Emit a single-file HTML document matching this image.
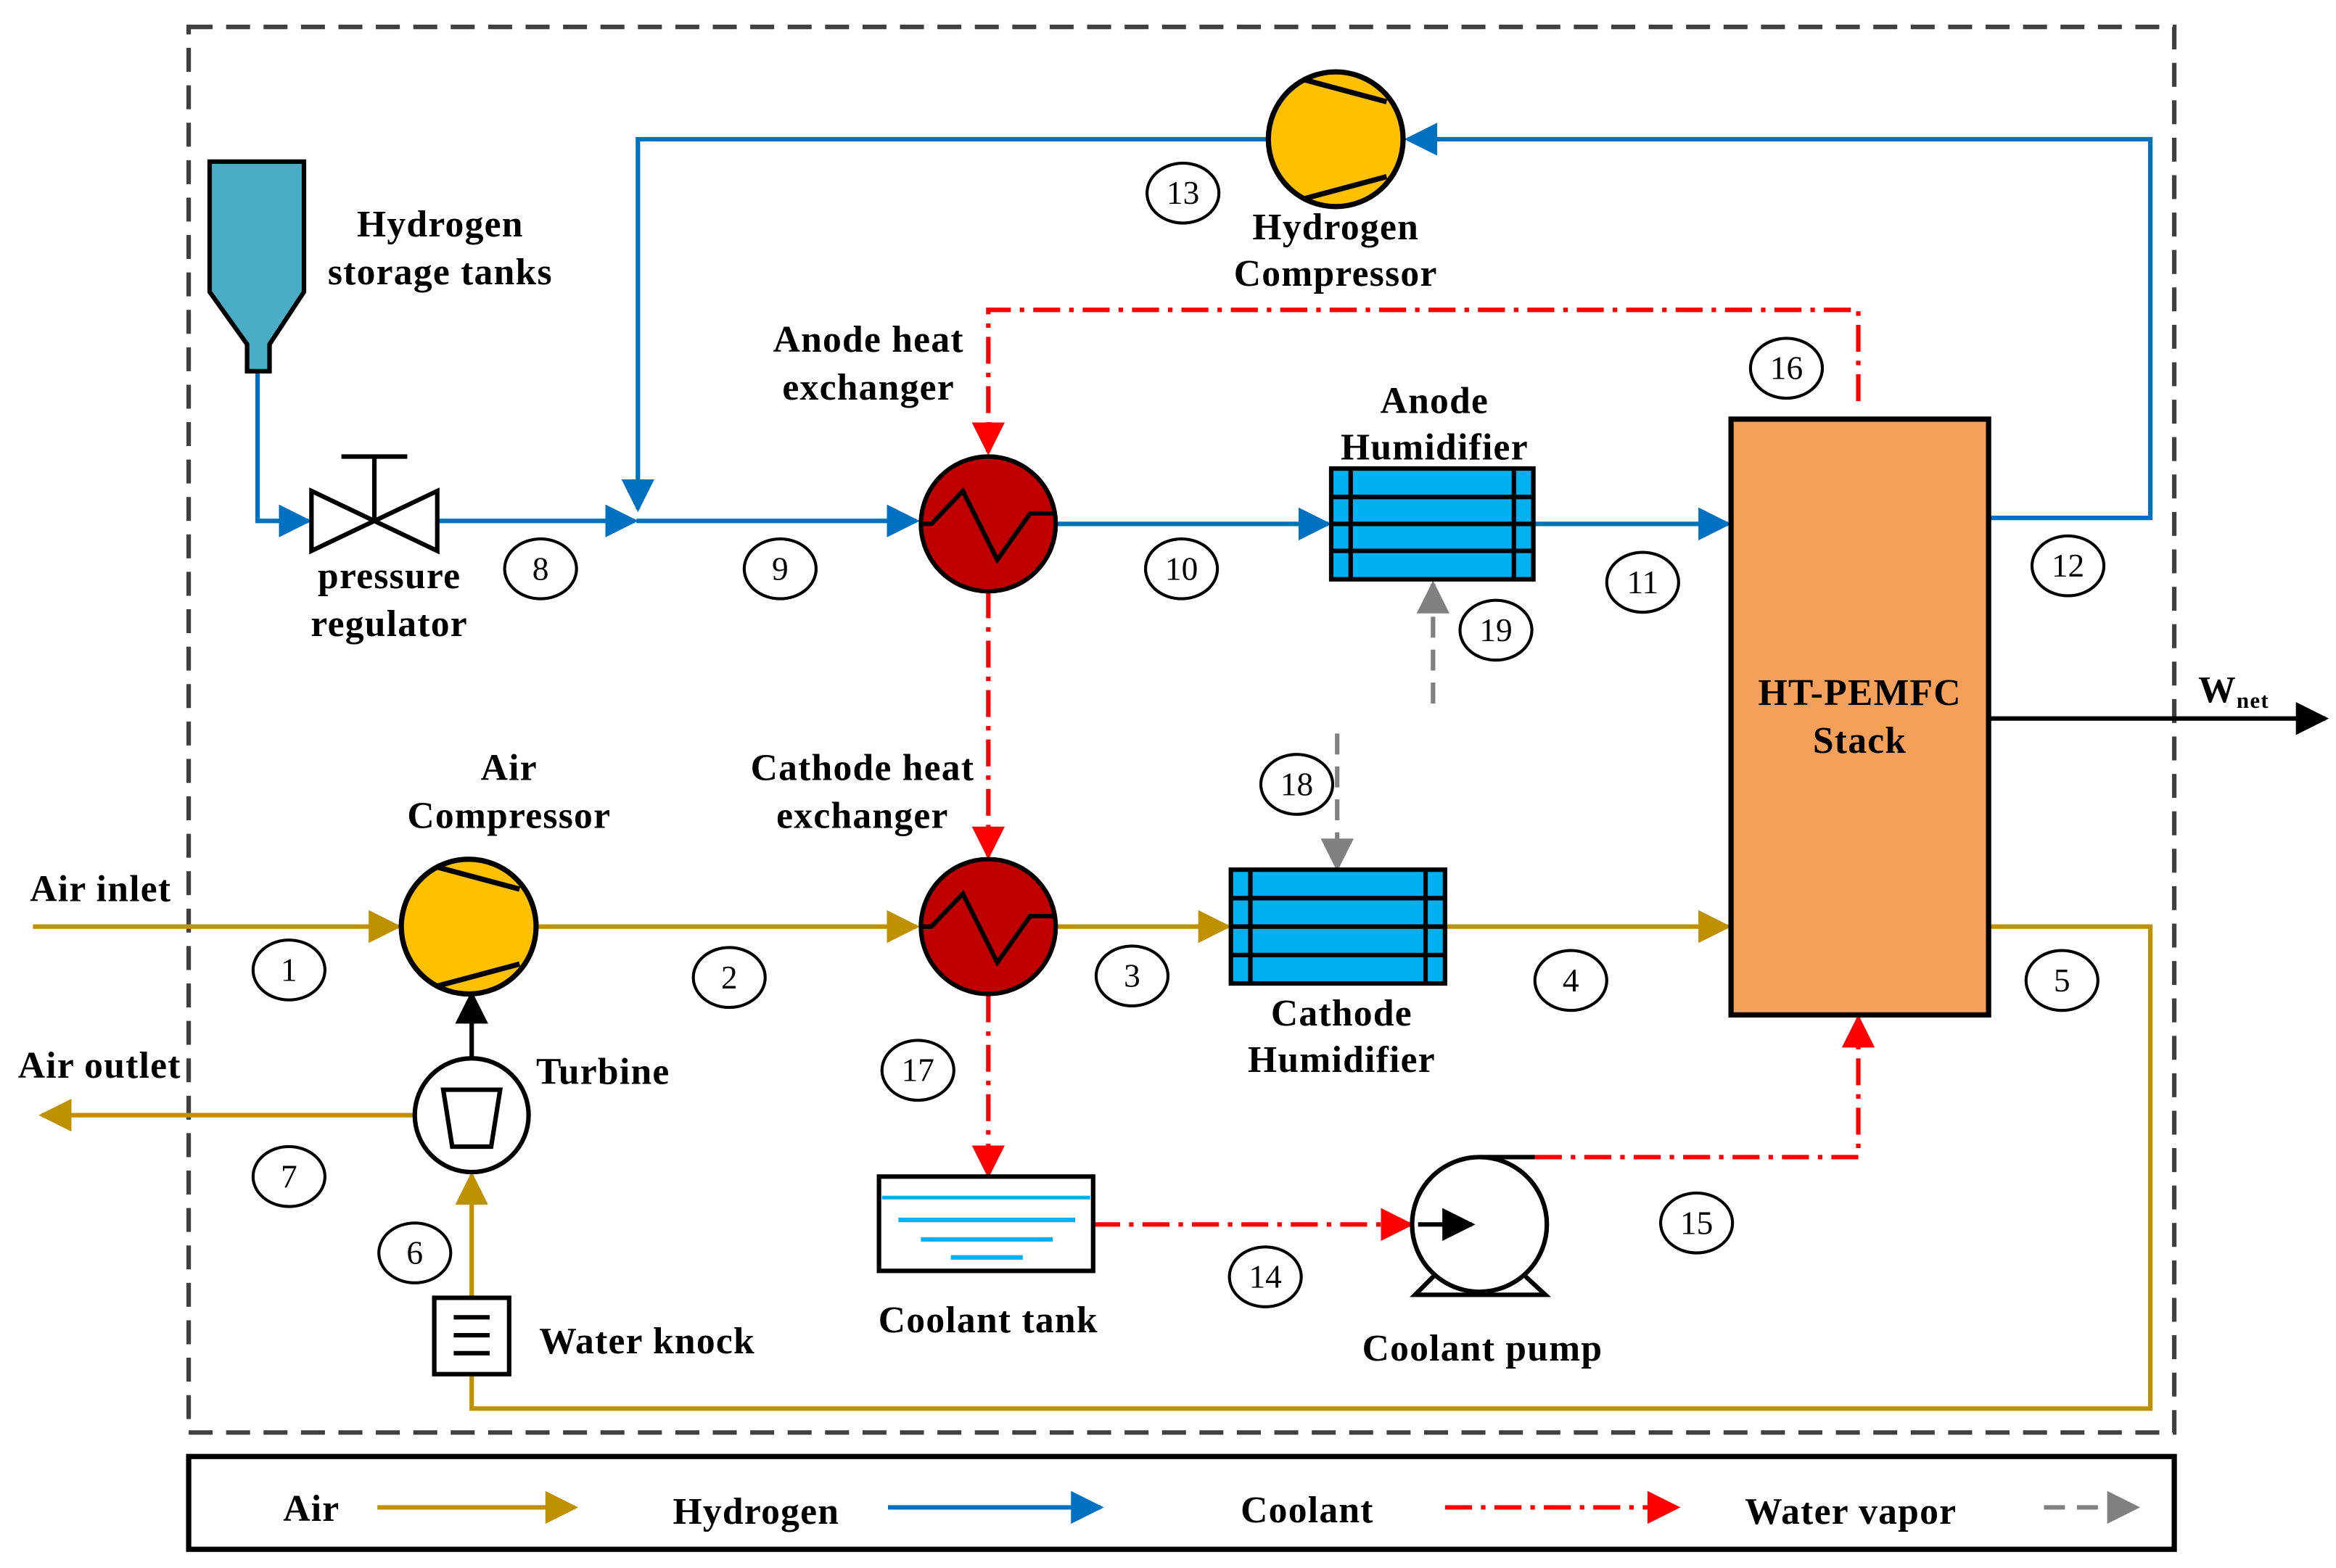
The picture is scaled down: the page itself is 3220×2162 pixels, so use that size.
<!DOCTYPE html>
<html><head><meta charset="utf-8"><style>
html,body{margin:0;padding:0;background:#fff;}
svg{display:block}
text{font-family:"Liberation Serif",serif;font-size:25px;fill:#000;font-weight:bold;letter-spacing:0.6px}
.n{font-size:22px;text-anchor:middle;dominant-baseline:central;font-weight:normal;letter-spacing:0}
</style></head><body>
<svg width="3220" height="2162" viewBox="0 0 1560 1047.5" preserveAspectRatio="none" xmlns="http://www.w3.org/2000/svg">
<defs>
<marker id="ab" markerWidth="22" markerHeight="22" refX="9" refY="5" orient="auto" markerUnits="userSpaceOnUse" viewBox="0 0 10 10"><path d="M0,0 L10,5 L0,10z" fill="#0070C0"/></marker>
<marker id="ag" markerWidth="22" markerHeight="22" refX="9" refY="5" orient="auto" markerUnits="userSpaceOnUse" viewBox="0 0 10 10"><path d="M0,0 L10,5 L0,10z" fill="#BF9000"/></marker>
<marker id="ar" markerWidth="22" markerHeight="22" refX="9" refY="5" orient="auto" markerUnits="userSpaceOnUse" viewBox="0 0 10 10"><path d="M0,0 L10,5 L0,10z" fill="#FF0000"/></marker>
<marker id="agr" markerWidth="22" markerHeight="22" refX="9" refY="5" orient="auto" markerUnits="userSpaceOnUse" viewBox="0 0 10 10"><path d="M0,0 L10,5 L0,10z" fill="#808080"/></marker>
<marker id="ak" markerWidth="22" markerHeight="22" refX="9" refY="5" orient="auto" markerUnits="userSpaceOnUse" viewBox="0 0 10 10"><path d="M0,0 L10,5 L0,10z" fill="#000"/></marker>
</defs>
<rect x="126" y="18" width="1326" height="939" fill="none" stroke="#404040" stroke-width="3" stroke-dasharray="16,9"/>
<rect x="126" y="973" width="1326" height="62" fill="none" stroke="#000" stroke-width="3.5"/>

<g stroke="#0070C0" stroke-width="3" fill="none">
<path d="M172,248 V348 H206" marker-end="url(#ab)"/>
<path d="M292,348 H424" marker-end="url(#ab)"/>
<path d="M425,348 H612" marker-end="url(#ab)"/>
<path d="M848,93 H426 V340" marker-end="url(#ab)"/>
<path d="M1328,346 H1436 V93 H940" marker-end="url(#ab)"/>
<path d="M705,350 H887" marker-end="url(#ab)"/>
<path d="M1024,350 H1154" marker-end="url(#ab)"/>
</g>
<g stroke="#BF9000" stroke-width="3" fill="none">
<path d="M22,619 H266" marker-end="url(#ag)"/>
<path d="M358,619 H612" marker-end="url(#ag)"/>
<path d="M705,619 H820" marker-end="url(#ag)"/>
<path d="M965,619 H1154" marker-end="url(#ag)"/>
<path d="M1328,619 H1436 V941 H315 V918"/>
<path d="M315,867 V785" marker-end="url(#ag)"/>
<path d="M277,745 H28" marker-end="url(#ag)"/>
</g>
<g stroke="#FF0000" stroke-width="3" fill="none" stroke-dasharray="18,6,3,6">
<path d="M1241,268 V207 H660 V302" marker-end="url(#ar)"/>
<path d="M660,395 V572" marker-end="url(#ar)"/>
<path d="M660,665 V785" marker-end="url(#ar)"/>
<path d="M730,818 H942" marker-end="url(#ar)"/>
<path d="M1025,773 H1241 V680" marker-end="url(#ar)"/>
</g>
<g stroke="#808080" stroke-width="3" fill="none" stroke-dasharray="14,8">
<path d="M957,470 V390" marker-end="url(#agr)"/>
<path d="M893,490 V580" marker-end="url(#agr)"/>
</g>
<path d="M1328,480 H1553" stroke="#000" stroke-width="3" marker-end="url(#ak)"/>
<path d="M315,707 V664" stroke="#000" stroke-width="3" marker-end="url(#ak)"/>

<path d="M140,108 H203 V195 L180,230 V248 H165 V230 L140,195 Z" fill="#4BACC6" stroke="#000" stroke-width="3"/>
<path d="M208,328 L292,368 V328 L208,368 Z" fill="#fff" stroke="#000" stroke-width="3"/>
<path d="M250,348 V305 M228,305 H272" stroke="#000" stroke-width="3"/>

<g stroke="#000" stroke-width="3.5">
<circle cx="892" cy="93" r="45" fill="#FFC000"/>
<path d="M870,53 L926,68 M870,133 L926,118" fill="none"/>
<circle cx="313" cy="619" r="45" fill="#FFC000"/>
<path d="M291,579 L347,594 M291,659 L347,644" fill="none"/>
</g>
<g stroke="#000" stroke-width="3">
<circle cx="660" cy="350" r="45" fill="#C00000"/>
<path d="M615,350 H622 L643,328 L666,374 L688,343 H705" fill="none"/>
<circle cx="660" cy="619" r="45" fill="#C00000"/>
<path d="M615,619 H622 L643,597 L666,643 L688,612 H705" fill="none"/>
</g>
<g stroke="#000" stroke-width="3">
<rect x="889" y="313" width="135" height="74" fill="#00B0F0"/>
<path d="M889,332 H1024 M889,350 H1024 M889,368 H1024 M902,313 V387 M1011,313 V387" fill="none"/>
<rect x="822" y="581" width="143" height="76" fill="#00B0F0"/>
<path d="M822,600 H965 M822,619 H965 M822,638 H965 M835,581 V657 M952,581 V657" fill="none"/>
</g>
<rect x="1156" y="280" width="172" height="398" fill="#F4A05A" stroke="#000" stroke-width="3.5"/>
<text x="1242" y="471" text-anchor="middle">HT-PEMFC</text>
<text x="1242" y="503" text-anchor="middle">Stack</text>

<circle cx="315" cy="745" r="38" fill="#fff" stroke="#000" stroke-width="3"/>
<path d="M296,728 H334 L328,766 H302 Z" fill="#fff" stroke="#000" stroke-width="3"/>
<rect x="290" y="867" width="50" height="51" fill="#fff" stroke="#000" stroke-width="3"/>
<path d="M303,880 H327 M303,892 H327 M303,904 H327" stroke="#000" stroke-width="3"/>
<rect x="587" y="786" width="143" height="63" fill="#fff" stroke="#000" stroke-width="3"/>
<path d="M589,800 H728" stroke="#00B0F0" stroke-width="2.5"/>
<path d="M600,815 H718 M615,828 H703 M635,840 H683" stroke="#00B0F0" stroke-width="3"/>
<path d="M958,852 L945,865 H1032 L1018,852" fill="#fff" stroke="#000" stroke-width="3"/>
<circle cx="988" cy="818" r="45" fill="#fff" stroke="#000" stroke-width="3"/>
<path d="M988,773 H1025" stroke="#000" stroke-width="3"/>
<path d="M947,818 H983" stroke="#000" stroke-width="3" marker-end="url(#ak)"/>

<text x="294" y="158" text-anchor="middle">Hydrogen</text>
<text x="294" y="190" text-anchor="middle">storage tanks</text>
<text x="260" y="393" text-anchor="middle">pressure</text>
<text x="260" y="425" text-anchor="middle">regulator</text>
<text x="892" y="160" text-anchor="middle">Hydrogen</text>
<text x="892" y="191" text-anchor="middle">Compressor</text>
<text x="580" y="235" text-anchor="middle">Anode heat</text>
<text x="580" y="267" text-anchor="middle">exchanger</text>
<text x="958" y="276" text-anchor="middle">Anode</text>
<text x="958" y="307" text-anchor="middle">Humidifier</text>
<text x="340" y="521" text-anchor="middle">Air</text>
<text x="340" y="553" text-anchor="middle">Compressor</text>
<text x="576" y="521" text-anchor="middle">Cathode heat</text>
<text x="576" y="553" text-anchor="middle">exchanger</text>
<text x="896" y="685" text-anchor="middle">Cathode</text>
<text x="896" y="716" text-anchor="middle">Humidifier</text>
<text x="20" y="602">Air inlet</text>
<text x="12" y="720">Air outlet</text>
<text x="358" y="724">Turbine</text>
<text x="360" y="904">Water knock</text>
<text x="660" y="890" text-anchor="middle">Coolant tank</text>
<text x="990" y="909" text-anchor="middle">Coolant pump</text>
<text x="1468" y="469">W<tspan font-size="15" dy="4">net</tspan></text>

<g stroke="#000" stroke-width="2" fill="#fff">
<ellipse cx="193" cy="648" rx="24" ry="20"/><ellipse cx="487" cy="653" rx="24" ry="20"/>
<ellipse cx="756" cy="652" rx="24" ry="20"/><ellipse cx="1049" cy="655" rx="24" ry="20"/>
<ellipse cx="1377" cy="655" rx="24" ry="20"/><ellipse cx="277" cy="837" rx="24" ry="20"/>
<ellipse cx="193" cy="786" rx="24" ry="20"/><ellipse cx="361" cy="380" rx="24" ry="20"/>
<ellipse cx="521" cy="380" rx="24" ry="20"/><ellipse cx="789" cy="380" rx="24" ry="20"/>
<ellipse cx="1097" cy="389" rx="24" ry="20"/><ellipse cx="1381" cy="378" rx="24" ry="20"/>
<ellipse cx="790" cy="129" rx="24" ry="20"/><ellipse cx="845" cy="853" rx="24" ry="20"/>
<ellipse cx="1133" cy="817" rx="24" ry="20"/><ellipse cx="1193" cy="246" rx="24" ry="20"/>
<ellipse cx="613" cy="715" rx="24" ry="20"/><ellipse cx="866" cy="524" rx="24" ry="20"/>
<ellipse cx="999" cy="421" rx="24" ry="20"/>
</g>
<text class="n" x="193" y="648">1</text><text class="n" x="487" y="653">2</text>
<text class="n" x="756" y="652">3</text><text class="n" x="1049" y="655">4</text>
<text class="n" x="1377" y="655">5</text><text class="n" x="277" y="837">6</text>
<text class="n" x="193" y="786">7</text><text class="n" x="361" y="380">8</text>
<text class="n" x="521" y="380">9</text><text class="n" x="789" y="380">10</text>
<text class="n" x="1097" y="389">11</text><text class="n" x="1381" y="378">12</text>
<text class="n" x="790" y="129">13</text><text class="n" x="845" y="853">14</text>
<text class="n" x="1133" y="817">15</text><text class="n" x="1193" y="246">16</text>
<text class="n" x="613" y="715">17</text><text class="n" x="866" y="524">18</text>
<text class="n" x="999" y="421">19</text>

<text x="208" y="1016" text-anchor="middle">Air</text>
<path d="M252,1007 H384" stroke="#BF9000" stroke-width="3" marker-end="url(#ag)"/>
<text x="505" y="1018" text-anchor="middle">Hydrogen</text>
<path d="M593,1007 H735" stroke="#0070C0" stroke-width="3" marker-end="url(#ab)"/>
<text x="873" y="1017" text-anchor="middle">Coolant</text>
<path d="M965,1007 H1120" stroke="#FF0000" stroke-width="3" stroke-dasharray="18,6,3,6" marker-end="url(#ar)"/>
<text x="1236" y="1018" text-anchor="middle">Water vapor</text>
<path d="M1365,1007 H1427" stroke="#808080" stroke-width="3" stroke-dasharray="14,8" marker-end="url(#agr)"/>
</svg>
</body></html>
